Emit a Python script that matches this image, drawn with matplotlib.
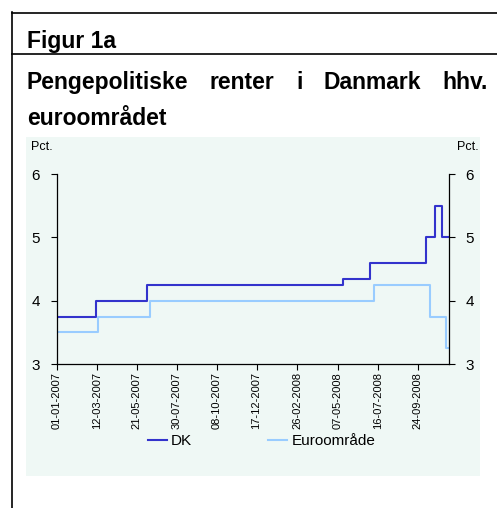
import matplotlib
matplotlib.use("Agg")
import matplotlib.pyplot as plt
import numpy as np
import pandas as pd
from matplotlib.lines import Line2D
from matplotlib.patches import Rectangle

plt.rcParams['font.family'] = ['Liberation Sans', 'DejaVu Sans']

# Data: policy rate step changes (date, level)
dk_dates = ["2007-01-01", "2007-03-10", "2007-06-08", "2008-05-16", "2008-07-03",
            "2008-10-08", "2008-10-24", "2008-11-06", "2008-11-18"]
dk_rates = [3.75, 4.00, 4.25, 4.35, 4.60, 5.00, 5.50, 5.00, 5.00]

euro_dates = ["2007-01-01", "2007-03-14", "2007-06-13", "2008-07-09",
              "2008-10-15", "2008-11-12", "2008-11-18"]
euro_rates = [3.50, 3.75, 4.00, 4.25, 3.75, 3.25, 3.25]

tick_dates = ["01-01-2007", "12-03-2007", "21-05-2007", "30-07-2007", "08-10-2007",
              "17-12-2007", "26-02-2008", "07-05-2008", "16-07-2008", "24-09-2008"]
y_ticks = [3, 4, 5, 6]

W, H = 497, 508
fig = plt.figure(figsize=(W / 100, H / 100), dpi=100)

def fx(px):
    return px / W

def fy(py):
    return 1 - py / H

# frame lines
fig.add_artist(Line2D([fx(12), fx(497)], [fy(12.5), fy(12.5)], color='black', lw=1.2))
fig.add_artist(Line2D([fx(12), fx(497)], [fy(53.5), fy(53.5)], color='black', lw=1.2))
fig.add_artist(Line2D([fx(12), fx(12)], [fy(12), fy(508)], color='black', lw=1.2))

# shaded panel
fig.add_artist(Rectangle((fx(26), fy(476)), fx(480) - fx(26), fy(137) - fy(476),
                         facecolor='#EFF8F5', edgecolor='none', zorder=0))

# titles
TS = 16.5
fig.text(fx(27), fy(48), "Figur 1a", fontsize=TS, fontweight='bold', va='baseline', ha='left')

# justified first title line
words = ["Pengepolitiske", "renter", "i", "Danmark", "hhv."]
x0, x1 = 27, 488
renderer = fig.canvas.get_renderer()
texts = [fig.text(0, fy(89), w, fontsize=TS, fontweight='bold', va='baseline', ha='left')
         for w in words]
widths = [t.get_window_extent(renderer).width for t in texts]
gap = ((x1 - x0) - sum(widths)) / (len(words) - 1)
x = x0
for t, wd in zip(texts, widths):
    t.set_x(fx(x))
    x += wd + gap
fig.text(fx(27), fy(125), "euroområdet", fontsize=TS, fontweight='bold', va='baseline', ha='left')

fig.text(fx(31), fy(147), "Pct.", fontsize=9, va='center', ha='left')
fig.text(fx(479), fy(147), "Pct.", fontsize=9, va='center', ha='right')

ax = fig.add_axes([fx(56.7), fy(364), fx(449) - fx(56.7), fy(174) - fy(364)])
ax.patch.set_alpha(0)

dk_d = pd.to_datetime(dk_dates)
eu_d = pd.to_datetime(euro_dates)
ax.step(dk_d, dk_rates, where='post', color='#3333CC', lw=1.5, label='DK')
ax.step(eu_d, euro_rates, where='post', color='#99CCFF', lw=1.5, label='Euroområde')

ax.set_ylim(3, 6)
ax.set_xlim(pd.Timestamp(dk_dates[0]), pd.Timestamp(dk_dates[-1]))
ax.set_yticks(y_ticks)
ax.tick_params(axis='y', which='both', direction='out', length=4, labelsize=11, pad=8,
               left=True, right=True, labelleft=True, labelright=True, width=0.8)
td = pd.to_datetime(tick_dates, format="%d-%m-%Y")
ax.set_xticks(td)
ax.set_xticklabels(tick_dates, rotation=90, fontsize=8)
ax.tick_params(axis='x', direction='out', length=4, width=0.8, pad=2)
ax.spines['top'].set_visible(False)
for s in ['left', 'right', 'bottom']:
    ax.spines[s].set_linewidth(0.9)

handles = [Line2D([], [], color='#3333CC', lw=1.5), Line2D([], [], color='#99CCFF', lw=1.5)]
fig.legend(handles, ['DK', 'Euroområde'], loc='center', bbox_to_anchor=(fx(261.5), fy(441)),
           ncol=2, frameon=False, fontsize=11, handlelength=1.25, handletextpad=0.3,
           columnspacing=4.95)

fig.savefig("out.png", dpi=100)
